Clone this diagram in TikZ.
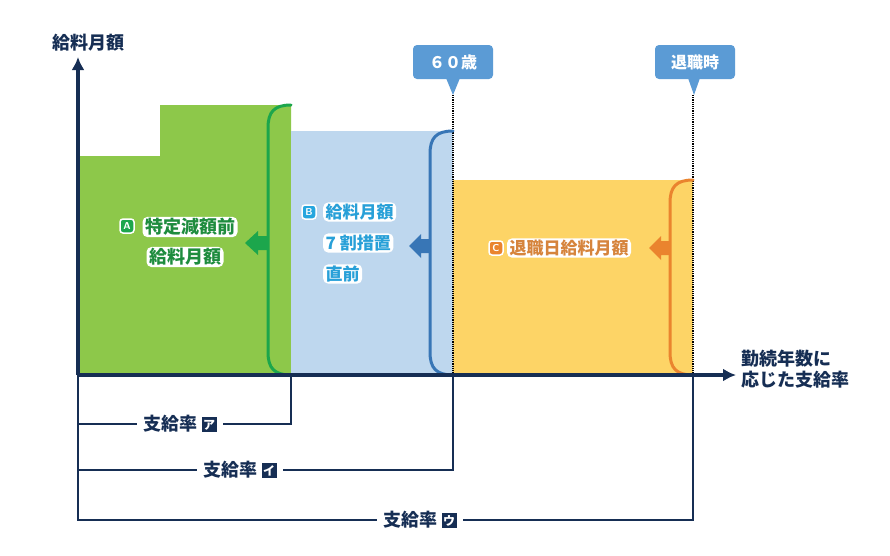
\documentclass[tikz,border=0pt]{standalone}
\usepackage{fontspec}
\newfontfamily\jp{Noto Sans CJK JP}
\usetikzlibrary{arrows.meta}
\definecolor{navy}{RGB}{22,46,84}
\definecolor{gfill}{RGB}{141,200,74}
\definecolor{gline}{RGB}{28,166,76}
\definecolor{gtext}{RGB}{30,140,62}
\definecolor{bfill}{RGB}{190,215,238}
\definecolor{bline}{RGB}{56,118,182}
\definecolor{btext}{RGB}{40,160,216}
\definecolor{bbadge}{RGB}{38,166,222}
\definecolor{yfill}{RGB}{253,212,102}
\definecolor{oline}{RGB}{234,132,46}
\definecolor{otext}{RGB}{214,132,60}
\definecolor{callblue}{RGB}{91,155,213}
\tikzset{
  axisarrow/.style={navy, line width=3.6pt, -{Latex[length=13pt,width=13pt]}},
  dimline/.style={navy, line width=1.4pt},
  brace/.style={line width=3pt, line cap=round},
  guide/.style={black, line width=1.2pt, densely dotted},
  callout/.style={fill=callblue, rounded corners=4pt, minimum width=80pt, minimum height=34pt, text=white, font=\jp\bfseries\fontsize{16}{18}\selectfont, inner sep=0pt},
  badge/.style={rounded corners=3pt, minimum width=14pt, minimum height=14pt, inner sep=0pt, text=white, font=\sffamily\bfseries\fontsize{10}{10}\selectfont, draw=white, line width=1.5pt},
  lbl/.style={font=\jp\bfseries\fontsize{18}{20}\selectfont, fill=white, rounded corners=5pt, inner xsep=2.5pt, inner ysep=1.5pt},
  dimlbl/.style={fill=white, font=\jp\bfseries\fontsize{18}{20}\selectfont, text=navy, inner xsep=6pt, inner ysep=1pt},
  kbox/.style={fill=navy, text=white, inner sep=0pt, font=\jp\bfseries\fontsize{12}{12}\selectfont, minimum width=15pt, minimum height=15pt},
}
\begin{document}
\begin{tikzpicture}[x=1pt,y=-1pt]
\useasboundingbox[fill=white] (0,0) rectangle (890,555);

% bars
\fill[gfill] (78,375) -- (78,156) -- (160,156) -- (160,105) -- (291,105) -- (291,375) -- cycle;
\fill[bfill] (291,131) rectangle (453,375);
\fill[yfill] (453,180) rectangle (693,375);

% coordinates
\coordinate (O) at (78,375);
\coordinate (ytip) at (78,57);
\coordinate (xtip) at (736,375);
\coordinate (gA) at (291,375);
\coordinate (bA) at (453,375);
\coordinate (oA) at (693,375);
\coordinate (gD) at (291,424);
\coordinate (bD) at (453,470);
\coordinate (oD) at (693,520);
\coordinate (lD1) at (78,424);
\coordinate (lD2) at (78,470);
\coordinate (lD3) at (78,520);

% callouts
\node[callout] (c60) at (453,62) {６０歳};
\node[callout] (cret) at (695,62) {退職時};
\fill[callblue] (446,78) -- (453,95) -- (460,78) -- cycle;
\fill[callblue] (688,78) -- (694,95) -- (700,78) -- cycle;
\coordinate (p60) at (453,95);
\coordinate (pret) at (693,95);

% guides
\draw[guide] (p60) -- (bA);
\draw[guide] (pret) -- (oA);

% braces
\draw[brace, gline] (291,105) .. controls (274,105) and (268,112) .. (268,128) -- (268,352) .. controls (268,368) and (274,375) .. (291,375);
\draw[brace, bline] (453,131) .. controls (436,131) and (430,138) .. (430,154) -- (430,352) .. controls (430,368) and (436,375) .. (453,375);
\draw[brace, oline] (693,180) .. controls (676,180) and (670,187) .. (670,203) -- (670,352) .. controls (670,368) and (676,375) .. (693,375);

% block arrows
\fill[gline] (268,236) -- (258,236) -- (258,231) -- (245,243) -- (258,255) -- (258,250) -- (268,250) -- cycle;
\fill[bline] (430,239) -- (421,239) -- (421,234) -- (409,246) -- (421,258) -- (421,253) -- (430,253) -- cycle;
\fill[oline] (670,241) -- (661,241) -- (661,236) -- (649,248) -- (661,260) -- (661,255) -- (670,255) -- cycle;

% dimension lines
\draw[dimline] (lD1) -- (gD) -- (gA);
\draw[dimline] (lD2) -- (bD) -- (bA);
\draw[dimline] (O) -- (lD3) -- (oD) -- (oA);

% axes
\draw[axisarrow] (O) -- (ytip);
\draw[axisarrow] (O) -- (xtip);
\node[font=\jp\bfseries\fontsize{18}{20}\selectfont, text=navy] (ylab) at (88,43) {給料月額};
\node[font=\jp\bfseries\fontsize{18}{21}\selectfont, text=navy, align=left, anchor=west] (xlab) at (738,369) {勤続年数に\\応じた支給率};

% labels A
\node[lbl, text=gtext] (A1) at (190,227) {特定減額前};
\node[lbl, text=gtext] (A2) at (185,257) {給料月額};
\node[badge, fill=gline] (bdgA) at (127,226) {A};

% labels B
\node[lbl, text=btext, anchor=west, font=\jp\bfseries\fontsize{17}{19}\selectfont] (B1) at (323,212) {給料月額};
\node[lbl, text=btext, anchor=west, font=\jp\bfseries\fontsize{17}{19}\selectfont] (B2) at (323,243) {7 割措置};
\node[lbl, text=btext, anchor=west, font=\jp\bfseries\fontsize{17}{19}\selectfont] (B3) at (323,274) {直前};
\node[badge, fill=bbadge] (bdgB) at (309,212) {B};

% labels C
\node[lbl, text=otext, font=\jp\bfseries\fontsize{17}{19}\selectfont] (C1) at (569,248) {退職日給料月額};
\node[badge, fill=oline] (bdgC) at (496,248) {C};

\node[dimlbl] (d1) at (180,424) {支給率 \tikz[baseline=-0.6ex]\node[kbox]{ア};};
\node[dimlbl] (d2) at (240,470) {支給率 \tikz[baseline=-0.6ex]\node[kbox]{イ};};
\node[dimlbl] (d3) at (420,520) {支給率 \tikz[baseline=-0.6ex]\node[kbox]{ウ};};
\end{tikzpicture}
\end{document}
